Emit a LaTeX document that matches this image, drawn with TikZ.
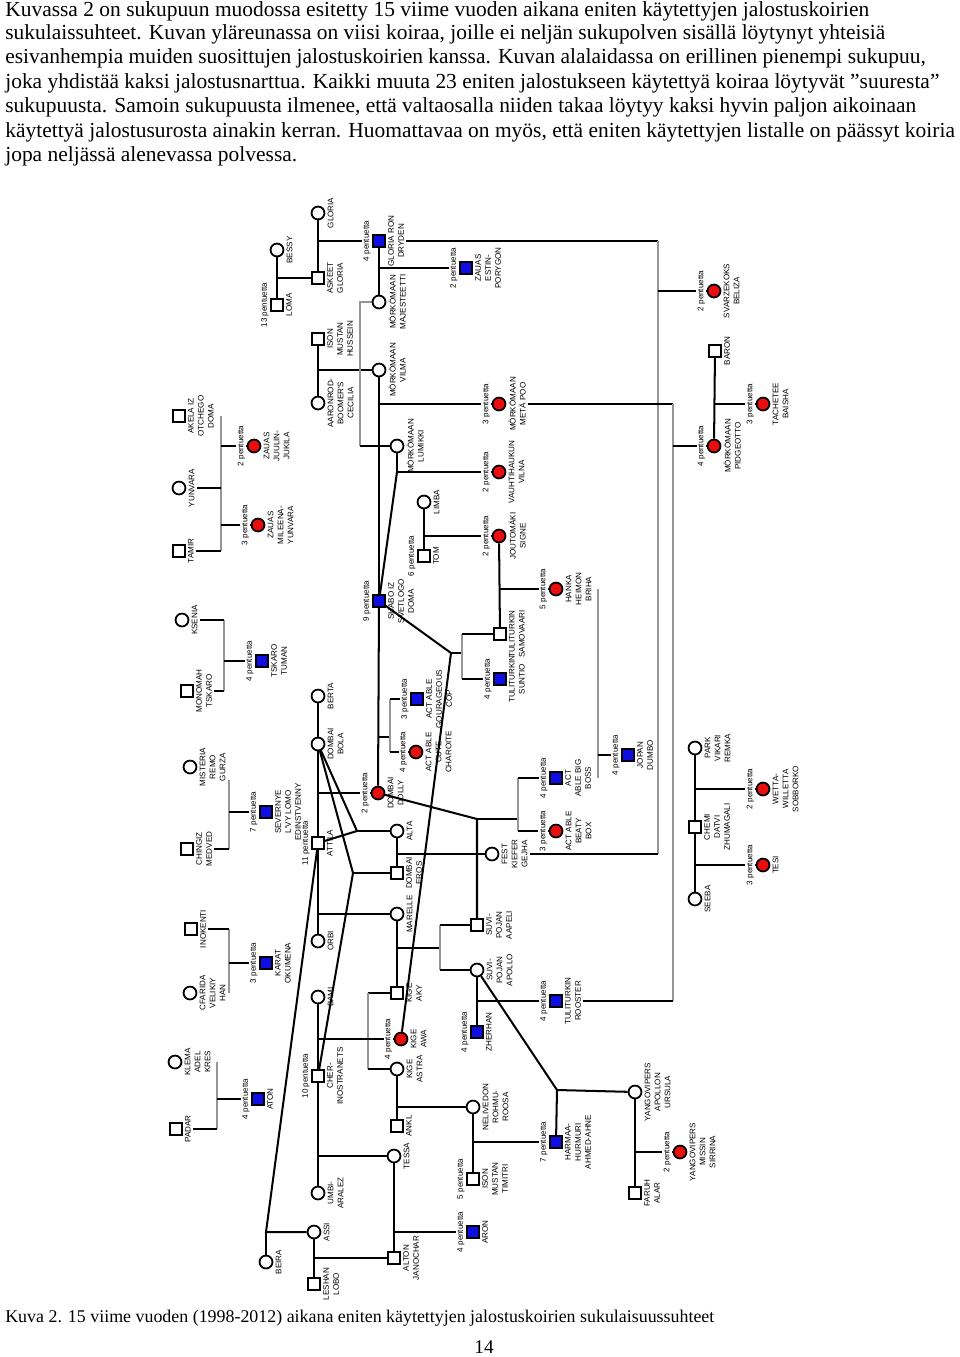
\documentclass[tikz,border=0pt]{standalone}
\usepackage{fontspec}
\setmainfont{Liberation Serif}
\newfontfamily\labfont{Liberation Sans}
\usetikzlibrary{calc}
\pgfdeclarelayer{bg}
\pgfsetlayers{bg,main}
\definecolor{dogred}{RGB}{232,14,14}
\definecolor{dogblue}{RGB}{14,14,226}
\definecolor{lgray}{RGB}{150,150,150}
\tikzset{
 sym/.style={draw=black, line width=1.1pt, inner sep=0pt},
 mw/.style={sym, rectangle, minimum size=7.3pt, fill=white},
 fw/.style={sym, circle, minimum size=8pt, fill=white},
 mb/.style={sym, rectangle, minimum size=7.3pt, fill=dogblue},
 fr/.style={sym, circle, minimum size=8pt, fill=dogred},
 lab/.style={rotate=90, anchor=north, align=center, font=\labfont\fontsize{5}{6.2}\selectfont, inner sep=1.3pt},
 pent/.style={rotate=90, anchor=south, font=\labfont\fontsize{5}{6.2}\selectfont, inner sep=0.8pt, fill=white},
 blk/.style={line width=1.25pt, black},
 gry/.style={line width=1.25pt, lgray},
 txt/.style={anchor=base west, inner sep=0pt, font=\fontsize{13.3}{15}\selectfont},
}
\newcommand\dog[5]{\node[#1] (#2) at (#3) {};\node[lab] (#2-l) at (#2.east) {#4};\if\relax\detokenize{#5}\relax\else\node[pent] (#2-p) at (#2.west) {#5 pentuetta};\fi}
\begin{document}
\begin{tikzpicture}[x=0.62pt, y=-0.62pt]
\useasboundingbox (0,0) rectangle (960,1357);
% header text
\node[txt] (t1) at (5,16) {Kuvassa 2 on sukupuun muodossa esitetty 15 viime vuoden aikana eniten käytettyjen jalostuskoirien};
\node[txt] (t2) at (5,39.5) {sukulaissuhteet. Kuvan yläreunassa on viisi koiraa, joille ei neljän sukupolven sisällä löytynyt yhteisiä};
\node[txt] (t3) at (5,63.5) {esivanhempia muiden suosittujen jalostuskoirien kanssa. Kuvan alalaidassa on erillinen pienempi sukupuu,};
\node[txt] (t4) at (5,88) {joka yhdistää kaksi jalostusnarttua. Kaikki muuta 23 eniten jalostukseen käytettyä koiraa löytyvät ”suuresta”};
\node[txt] (t5) at (5,112.5) {sukupuusta. Samoin sukupuusta ilmenee, että valtaosalla niiden takaa löytyy kaksi hyvin paljon aikoinaan};
\node[txt] (t6) at (5,137) {käytettyä jalostusurosta ainakin kerran. Huomattavaa on myös, että eniten käytettyjen listalle on päässyt koiria};
\node[txt] (t7) at (5,161.5) {jopa neljässä alenevassa polvessa.};
\node[txt, font=\fontsize{11.1}{13}\selectfont] (cap) at (5,1322) {Kuva 2. 15 viime vuoden (1998-2012) aikana eniten käytettyjen jalostuskoirien sukulaisuussuhteet};
\node[anchor=base, inner sep=0pt, font=\fontsize{12}{14}\selectfont] (pg) at (484,1353) {14};
% dogs
\dog{fw}{GLORIA}{318,213}{GLORIA}{}
\dog{mw}{ASKEET}{318,278}{ASKEET\\GLORIA}{}
\dog{fw}{BESSY}{277,250}{BESSY}{}
\dog{mw}{LOMA}{277,305}{LOMA}{13}
\dog{mb}{GRD}{379,241}{GLORIA RON\\DRYDEN}{4}
\dog{fw}{MAJ}{379,302}{MÖRKÖMAAN\\MAJESTEETTI}{}
\dog{mb}{ZEP}{466,268}{ZAUAS\\ESTIN-\\PORYGON}{2}
\dog{mw}{ISON}{318,339}{ISON\\MUSTAN\\HUSSEIN}{}
\dog{fw}{AARON}{318,403}{AARONROD-\\BOOMER'S\\CECILIA}{}
\dog{fw}{VILMA}{379,370}{MÖRKÖMAAN\\VILMA}{}
\dog{fr}{METAPOO}{499,404}{MÖRKÖMAAN\\METÄ POO}{3}
\dog{fw}{LUMIKKI}{397,446}{MÖRKÖMAAN\\LUMIKKI}{}
\dog{fr}{VILNA}{499,472}{VAUHTIHAUKUN\\VILNA}{2}
\dog{mw}{AKELA}{179,416}{AKELA IZ\\OTCHEGO\\DOMA}{}
\dog{fr}{JUKILA}{254,446}{ZAUAS\\JUULIN-\\JUKILA}{2}
\dog{fw}{YUNVARA}{179,488}{YUNVARA}{}
\dog{mw}{TAMIR}{179,551}{TAMIR}{}
\dog{fr}{MILEENA}{258,525}{ZAUAS\\MILEENA-\\YUNVARA}{3}
\dog{fw}{KSENIA}{182,620}{KSENIA}{}
\dog{mw}{MONOMAH}{187,691}{MONOMAH\\TSKARO}{}
\dog{mb}{TUMAN}{262,661}{TSKARO\\TUMAN}{4}
\dog{mb}{SHABO}{379,601}{SHABO IZ\\SVETLOGO\\DOMA}{9}
\dog{fw}{LIMBA}{424,502}{LIMBA}{}
\dog{mw}{TOM}{424,556}{TOM}{6}
\dog{fr}{SIGNE}{499,536}{JOUTOMÄKI\\SIGNE}{2}
\dog{mw}{SAMOVAARI}{500,634}{TULITURKIN\\SAMOVAARI}{}
\dog{mb}{SUNTIO}{500,679}{TULITURKIN\\SUNTIO}{4}
\dog{fr}{HANKA}{556,589}{HANKA\\HEIMON\\BRIHA}{5}
\dog{mb}{COP}{417,699}{ACT ABLE\\GOURAGEOUS\\COP}{3}
\dog{fr}{CHAROITE}{416,752}{ACT ABLE\\CUTE\\CHAROITE}{4}
\dog{fw}{BERTA}{318,696}{BERTA}{}
\dog{fw}{BOLA}{318,744}{DOMBAI\\BOLA}{}
\dog{fr}{DOLLY}{378,793}{DOMBAI\\DOLLY}{2}
\dog{mw}{ATTILA}{318,843}{ATTILA}{11}
\dog{fw}{ALTA}{397,831}{ALTA}{}
\dog{mw}{EROS}{397,873}{DOMBAI\\EROS}{}
\dog{fw}{MARELLE}{397,914}{MARELLE}{}
\dog{fw}{ORBI}{318,941}{ORBI}{}
\dog{fw}{BAMI}{318,997}{BAMI}{}
\dog{mw}{KIGEAKY}{397,993}{KIGE\\AKY}{}
\dog{fw}{MISTERIA}{190,767}{MISTERIA\\REMO\\GURZA}{}
\dog{mw}{CHINGIZ}{187,849}{CHINGIZ\\MEDVED}{}
\dog{mb}{SEVERNYE}{266,812}{SEVERNYE\\L'VY LOMO\\EDINSTVENNY}{7}
\dog{mw}{INOKENTI}{191,929}{INOKENTI}{}
\dog{fw}{CFARIDA}{190,993}{CFARIDA\\VELIKIY\\HAN}{}
\dog{mb}{KARAT}{266,963}{KARAT\\OKUMENA}{3}
\dog{mb}{ABIGBOSS}{556,778}{ACT\\ABLE BIG\\BOSS}{4}
\dog{fr}{BEATY}{556,831}{ACT ABLE\\BEATY\\BOX}{3}
\dog{mb}{JOPAN}{628,755}{JOPAN\\DUMBO}{4}
\dog{fw}{FEST}{492,854}{FEST\\KIEFER\\GEJHA}{}
\dog{mw}{APELI}{477,925}{SUVI-\\POJAN\\AAPELI}{}
\dog{fw}{APOLLO}{477,970}{SUVI-\\POJAN\\APOLLO}{}
\dog{mb}{ROOSTER}{556,1001}{TULITURKIN\\ROOSTER}{4}
\dog{mb}{ZHERHAN}{477,1032}{ZHERHAN}{4}
\dog{fw}{URSULA}{635,1092}{YANGOVIPERS\\APOLLON\\URSULA}{}
\dog{mb}{HARMAA}{556,1142}{HARMAA-\\HURMURI\\AHMED-AHNE}{7}
\dog{fw}{NELIVEDON}{473,1107}{NELIVEDON\\ROHMU-\\ROOSA}{}
\dog{mw}{TIMITRI}{473,1179}{ISON\\MUSTAN\\TIMITRI}{5}
\dog{mw}{FARUH}{635,1193}{FARUH\\ALAR}{}
\dog{fr}{SIRRINA}{680,1152}{YANGOVIPERS\\MISSIN\\SIRRINA}{2}
\dog{mb}{ARON}{473,1232}{ARON}{4}
\dog{fw}{TESSA}{394,1156}{TESSA}{}
\dog{mw}{ALTON}{394,1258}{ALTON\\JANOCHAR}{}
\dog{fw}{KIGEASTRA}{397,1069}{KIGE\\ASTRA}{}
\dog{mw}{ANKL}{397,1126}{ANKL}{}
\dog{fr}{KIGEAWA}{401,1039}{KIGE\\AWA}{4}
\dog{mw}{CHER}{318,1076}{CHER-\\INOSTRANETS}{10}
\dog{fw}{UMBI}{318,1193}{UMBI-\\ARALEZ}{}
\dog{fw}{ASSI}{314,1232}{ASSI}{}
\dog{fw}{BEIRA}{266,1262}{BEIRA}{}
\dog{mw}{LESHAN}{314,1284}{LESHAN\\LOBO}{}
\dog{mw}{PADAR}{176,1129}{PADAR}{}
\dog{fw}{KLEMA}{175,1062}{KLEMA\\ADEL\\KRES}{}
\dog{mb}{ATON}{258,1099}{ATON}{4}
\dog{fw}{PARK}{695,748}{PARK\\VIKARI\\REMKA}{}
\dog{mw}{CHEMI}{695,827}{CHEMI\\DATVI\\ZHUMAGALI}{}
\dog{fw}{SEEBA}{695,899}{SEEBA}{}
\dog{fr}{WETTA}{763,789}{WETTA-\\WILLETTA\\SOBBORKO}{2}
\dog{fr}{TESI}{763,865}{TESI}{3}
\dog{fr}{SVARZ}{714,291}{SVARZEKOKS\\BELIZA}{2}
\dog{mw}{BARON}{715,351}{BARON}{}
\dog{fr}{PIDGEOTTO}{714,446}{MÖRKÖMAAN\\PIDGEOTTO}{4}
\dog{fr}{TACHETEE}{763,404}{TACHETEE\\BAISHA}{3}
% junctions
\coordinate (gTop) at (658,241);
\coordinate (hTop) at (673,404);
\coordinate (jShL) at (LUMIKKI |- VILNA);
\coordinate (J1) at (451,653);
\coordinate (J1b) at (462,653);
\coordinate (J2) at (357,831);
\coordinate (J3) at (353,873);
\coordinate (J4) at (477,819);
\coordinate (J4b) at (518,819);
\coordinate (J5) at (557,1090);
\coordinate (J6) at (266,1232);
\coordinate (cop) at (390,737);
\coordinate (kg) at (440,948);
\coordinate (ka) at (368,993);
\coordinate (mj) at (360,302);
\coordinate (hk) at (598,589);
\coordinate (ak) at (221,416);
\coordinate (ks) at (224,620);
\coordinate (ms) at (229,780);
\coordinate (in) at (229,929);
\coordinate (kl) at (217,1062);
\begin{pgfonlayer}{bg}
% top
\draw[blk] (GLORIA) -- (ASKEET);
\draw[blk] (GLORIA |- GRD) -- (GRD);
\draw[blk] (BESSY) -- (LOMA);
\draw[blk] (BESSY |- ASKEET) -- (ASKEET);
\draw[blk] (GRD) -- (MAJ);
\draw[blk] (GRD |- ZEP) -- (ZEP);
\draw[blk] (GRD-l.south) -- (gTop);
\draw[gry] (gTop) -- (gTop |- FEST);
\draw[blk] (gTop |- SVARZ) -- (SVARZ);
\draw[blk] (FEST-l.south) -- (gTop |- FEST);
\draw[blk] (ISON) -- (AARON);
\draw[blk] (ISON |- VILMA) -- (VILMA);
\draw[blk] (VILMA) -- (SHABO);
\draw[blk] (SHABO) -- (DOLLY);
\draw[blk] (VILMA |- METAPOO) -- (METAPOO);
\draw[blk] (METAPOO-l.south) -- (hTop);
\draw[gry] (hTop) -- (hTop |- ROOSTER);
\draw[blk] (hTop |- PIDGEOTTO) -- (PIDGEOTTO);
\draw[blk] (ROOSTER-l.south) -- (hTop |- ROOSTER);
\draw[blk] (BARON) -- (PIDGEOTTO);
\draw[blk] (BARON |- TACHETEE) -- (TACHETEE);
\draw[gry] (MAJ) -- (mj) -- (mj |- LUMIKKI);
\draw[blk] (mj |- LUMIKKI) -- (LUMIKKI);
\draw[blk] (LUMIKKI) -- (jShL) -- (VILNA);
\draw[blk] (SHABO) -- (jShL);
\draw[blk] (LIMBA) -- (TOM);
\draw[blk] (LIMBA |- SIGNE) -- (SIGNE);
\draw[blk] (SIGNE) -- (SAMOVAARI);
\draw[blk] (SIGNE |- HANKA) -- (HANKA);
\draw[gry] (hk) -- (hk |- ABIGBOSS);
\draw[blk] (hk |- JOPAN) -- (JOPAN);
\draw[blk] (SHABO) -- (J1) -- (KIGEAWA);
\draw[blk] (J1) -- (J1b);
\draw[gry] (J1b |- SAMOVAARI) -- (J1b |- SUNTIO);
\draw[blk] (J1b |- SAMOVAARI) -- (SAMOVAARI);
\draw[blk] (J1b |- SUNTIO) -- (SUNTIO);
\draw[blk] (SHABO |- cop) -- (cop);
\draw[gry] (cop |- COP) -- (cop |- CHAROITE);
\draw[blk] (cop |- COP) -- (COP);
\draw[blk] (cop |- CHAROITE) -- (CHAROITE);
% middle
\draw[blk] (BERTA) -- (BOLA);
\draw[blk] (BOLA) -- (ATTILA) -- (ORBI);
\draw[blk] (BOLA |- DOLLY) -- (DOLLY);
\draw[blk] (BOLA) -- (J2) -- (ATTILA);
\draw[blk] (J2) -- (ALTA);
\draw[blk] (BOLA) -- (J3) -- (CHER);
\draw[blk] (J3) -- (EROS);
\draw[blk] (ALTA) -- (EROS);
\draw[blk] (ALTA |- FEST) -- (FEST);
\draw[blk] (ATTILA |- MARELLE) -- (MARELLE);
\draw[blk] (MARELLE) -- (KIGEAKY);
\draw[blk] (MARELLE |- kg) -- (kg);
\draw[gry] (kg |- APELI) -- (kg |- APOLLO);
\draw[blk] (kg |- APELI) -- (APELI);
\draw[blk] (kg |- APOLLO) -- (APOLLO);
\draw[blk] (DOLLY) -- (J4) -- (APELI);
\draw[blk] (J4) -- (J4b);
\draw[gry] (J4b |- ABIGBOSS) -- (J4b |- BEATY);
\draw[blk] (J4b |- ABIGBOSS) -- (ABIGBOSS);
\draw[blk] (J4b |- BEATY) -- (BEATY);
\draw[blk] (APOLLO) -- (ZHERHAN);
\draw[blk] (APOLLO |- ROOSTER) -- (ROOSTER);
\draw[blk] (APOLLO) -- (J5) -- (URSULA);
\draw[blk] (J5) -- (HARMAA);
\draw[blk] (NELIVEDON) -- (TIMITRI);
\draw[blk] (NELIVEDON |- HARMAA) -- (HARMAA);
\draw[blk] (URSULA) -- (FARUH);
\draw[blk] (URSULA |- SIRRINA) -- (SIRRINA);
\draw[blk] (KIGEASTRA) -- (ANKL);
\draw[blk] (KIGEASTRA |- NELIVEDON) -- (NELIVEDON);
\draw[blk] (KIGEAKY) -- (ka);
\draw[gry] (ka) -- (ka |- KIGEASTRA);
\draw[blk] (ka |- KIGEASTRA) -- (KIGEASTRA);
\draw[blk] (BAMI) -- (CHER) -- (UMBI);
\draw[blk] (CHER |- KIGEAWA) -- (KIGEAWA);
\draw[blk] (CHER |- TESSA) -- (TESSA);
\draw[blk] (TESSA) -- (ALTON);
\draw[blk] (TESSA |- ARON) -- (ARON);
\draw[blk] (ATTILA) -- (J6) -- (ASSI);
\draw[blk] (J6) -- (BEIRA);
\draw[blk] (ASSI) -- (LESHAN);
\draw[blk] (ASSI |- ALTON) -- (ALTON);
% right small tree
\draw[blk] (PARK) -- (CHEMI) -- (SEEBA);
\draw[blk] (PARK |- WETTA) -- (WETTA);
\draw[blk] (PARK |- TESI) -- (TESI);
% left brackets
\draw[gry] (ak) -- (ak |- TAMIR);
\draw[blk] (YUNVARA-l.south) -- (ak |- YUNVARA);
\draw[blk] (TAMIR-l.south) -- (ak |- TAMIR);
\draw[blk] (ak |- JUKILA) -- (JUKILA);
\draw[blk] (ak |- MILEENA) -- (MILEENA);
\draw[gry] (ks) -- (ks |- MONOMAH);
\draw[blk] (KSENIA-l.south) -- (ks);
\draw[blk] (MONOMAH-l.south) -- (ks |- MONOMAH);
\draw[blk] (ks |- TUMAN) -- (TUMAN);
\draw[gry] (ms) -- (ms |- CHINGIZ);
\draw[blk] (CHINGIZ-l.south) -- (ms |- CHINGIZ);
\draw[blk] (ms |- SEVERNYE) -- (SEVERNYE);
\draw[gry] (in) -- (in |- CFARIDA);
\draw[blk] (INOKENTI-l.south) -- (in);
\draw[blk] (in |- KARAT) -- (KARAT);
\draw[gry] (kl) -- (kl |- PADAR);
\draw[blk] (PADAR-l.south) -- (kl |- PADAR);
\draw[blk] (kl |- ATON) -- (ATON);
\end{pgfonlayer}
\end{tikzpicture}
\end{document}
